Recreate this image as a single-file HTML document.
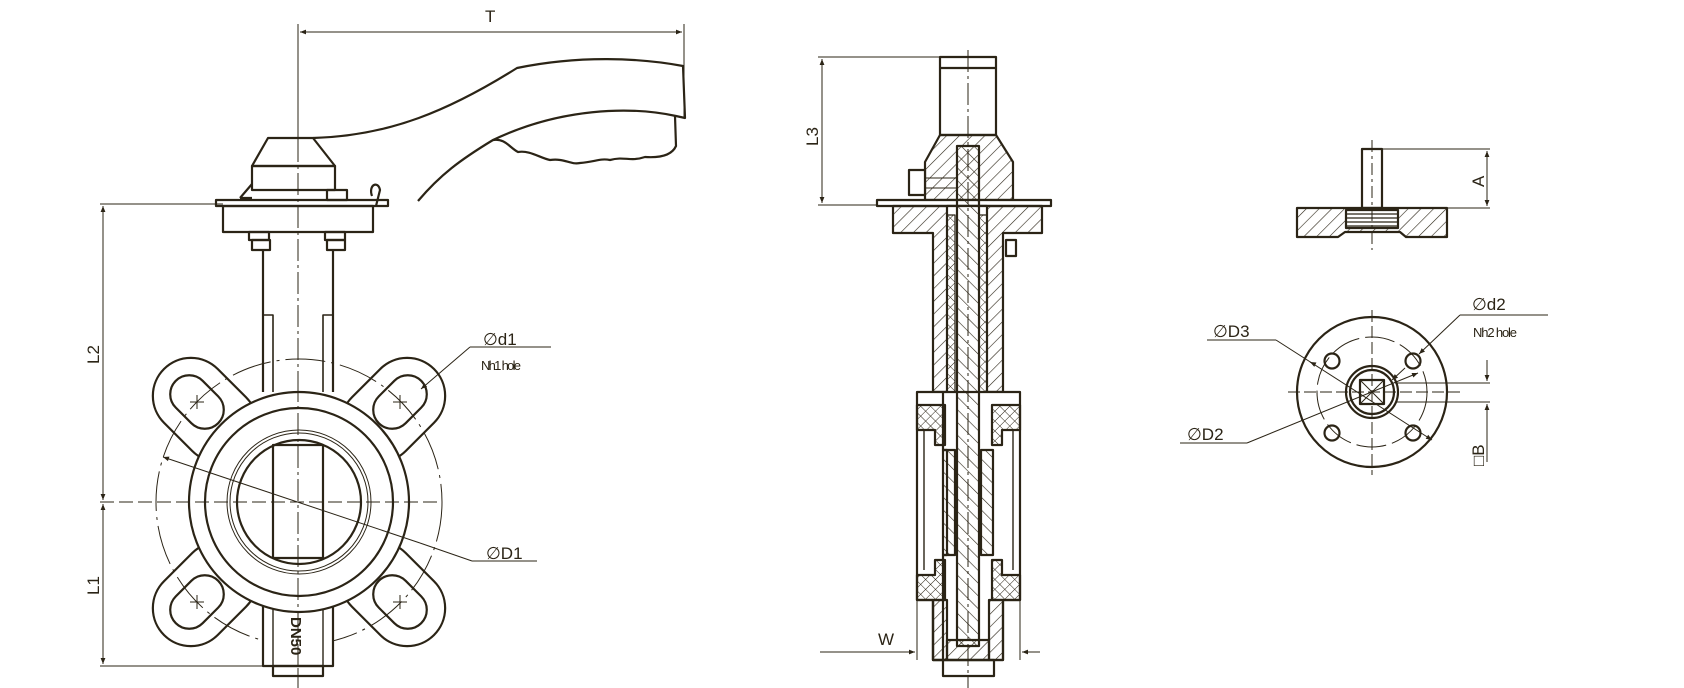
<!DOCTYPE html>
<html><head><meta charset="utf-8"><style>
html,body{margin:0;padding:0;background:#fff;}
svg{display:block;}
text{font-family:"Liberation Sans",sans-serif;fill:#2b2416;}
</style></head><body>
<svg width="1684" height="688" viewBox="0 0 1684 688" xmlns="http://www.w3.org/2000/svg">
<defs>
<pattern id="h1" width="9" height="9" patternUnits="userSpaceOnUse" patternTransform="rotate(45)"><line x1="0" y1="0" x2="0" y2="9" stroke="#2b2416" stroke-width="1.2"/></pattern>
<pattern id="h2" width="9" height="9" patternUnits="userSpaceOnUse" patternTransform="rotate(-45)"><line x1="0" y1="0" x2="0" y2="9" stroke="#2b2416" stroke-width="1.2"/></pattern>
<pattern id="hx" width="7" height="7" patternUnits="userSpaceOnUse" patternTransform="rotate(45)"><line x1="0" y1="0" x2="0" y2="7" stroke="#2b2416" stroke-width="1"/><line x1="0" y1="0" x2="7" y2="0" stroke="#2b2416" stroke-width="1"/></pattern>
<marker id="ar" viewBox="0 0 10 10" refX="10" refY="5" markerWidth="10" markerHeight="6" orient="auto-start-reverse" markerUnits="userSpaceOnUse"><path d="M0,1 L10,5 L0,9 z" fill="#2b2416"/></marker>
</defs>
<g fill="none" stroke="#2b2416" stroke-width="2.2" stroke-linejoin="round">

<!-- ============ LEFT VIEW ============ -->
<!-- T dimension -->
<g stroke-width="1">
<line x1="298" y1="24" x2="298" y2="140"/>
<line x1="684" y1="24" x2="684" y2="118"/>
<line x1="300" y1="32" x2="682" y2="32" marker-start="url(#ar)" marker-end="url(#ar)"/>
<line x1="298" y1="140" x2="298" y2="690" stroke-dasharray="22,4,3,4"/>
</g>
<!-- handle -->
<path d="M313,138 C390,136 450,110 517,68 C580,55 640,58 683,66 L685,118 L676,116 C630,106 560,108 493,140 C460,160 440,175 418,201"/>
<path d="M493,140 C505,138 510,148 518,152 C530,150 540,158 550,160 C565,158 570,165 580,163 C595,162 600,158 610,160 C625,156 630,162 645,157 C660,158 672,155 676,146 L675,116"/>
<!-- head -->
<path d="M268,138 L313,138 L335,166 L252,166 Z"/>
<rect x="252" y="166" width="83" height="24"/>
<path d="M252,184 L240,198 M240,198 L252,198"/>
<rect x="327" y="190" width="20" height="10"/>
<path d="M372,196 C368,185 378,180 380,190 L376,206"/>
<rect x="216" y="200" width="172" height="6"/>
<rect x="223" y="206" width="150" height="26"/>
<!-- nuts -->
<rect x="249" y="232" width="20" height="8"/><rect x="252" y="240" width="18" height="10"/>
<rect x="325" y="232" width="20" height="8"/><rect x="327" y="240" width="18" height="10"/>
<!-- neck -->
<path d="M263,250 L263,392 M333,250 L333,392"/>
<path d="M263,315 L273,315 L273,392 M333,315 L323,315 L323,392" stroke-width="1.6"/>
<!-- lugs outer -->
<g fill="#fff">
<rect x="-58" y="-38" width="116" height="76" rx="38" transform="translate(205,410) rotate(45)"/>
<rect x="-58" y="-38" width="116" height="76" rx="38" transform="translate(393,410) rotate(-45)"/>
<rect x="-58" y="-38" width="116" height="76" rx="38" transform="translate(205,594) rotate(-45)"/>
<rect x="-58" y="-38" width="116" height="76" rx="38" transform="translate(393,594) rotate(45)"/>
</g>
<rect x="-30" y="-19" width="60" height="38" rx="19" transform="translate(197,402) rotate(45)"/>
<rect x="-30" y="-19" width="60" height="38" rx="19" transform="translate(400,402) rotate(-45)"/>
<rect x="-30" y="-19" width="60" height="38" rx="19" transform="translate(197,602) rotate(-45)"/>
<rect x="-30" y="-19" width="60" height="38" rx="19" transform="translate(400,602) rotate(45)"/>
<g stroke-width="1">
<path d="M190,402 h14 M197,395 v14 M393,402 h14 M400,395 v14 M190,602 h14 M197,595 v14 M393,602 h14 M400,595 v14"/>
<circle cx="299" cy="502" r="143" stroke-dasharray="40,6,3,6"/>
</g>
<!-- bottom neck -->
<rect x="263" y="600" width="70" height="66" fill="#fff"/>
<rect x="273" y="666" width="50" height="10"/>
<line x1="273" y1="600" x2="273" y2="666" stroke-width="1.4"/><line x1="323" y1="600" x2="323" y2="666" stroke-width="1.4"/>
<text x="0" y="0" transform="translate(291,617) rotate(90)" font-size="15" font-weight="bold" stroke="none">DN50</text>
<!-- body -->
<circle cx="299" cy="502" r="110" fill="#fff"/>
<circle cx="299" cy="502" r="94"/>
<circle cx="299" cy="502" r="72" stroke-width="1"/>
<circle cx="299" cy="502" r="69" stroke-width="1"/>
<circle cx="299" cy="502" r="62"/>
<rect x="273" y="445" width="50" height="113"/>
<!-- centerlines/dims -->
<g stroke-width="1">
<line x1="298" y1="380" x2="298" y2="690" stroke-dasharray="22,4,3,4"/>
<line x1="100" y1="502" x2="440" y2="502" stroke-dasharray="14,5"/>
<line x1="100" y1="204" x2="223" y2="204"/>
<line x1="100" y1="666" x2="273" y2="666"/>
<line x1="103" y1="206" x2="103" y2="500" marker-start="url(#ar)" marker-end="url(#ar)"/>
<line x1="103" y1="504" x2="103" y2="664" marker-start="url(#ar)" marker-end="url(#ar)"/>
<line x1="163" y1="457" x2="420" y2="543" marker-start="url(#ar)"/>
<line x1="420" y1="543" x2="472" y2="561"/>
<line x1="472" y1="561" x2="537" y2="561"/>
<line x1="470" y1="347" x2="551" y2="347"/>
<line x1="470" y1="347" x2="421" y2="389" marker-end="url(#ar)"/>
</g>
<text x="0" y="0" transform="translate(99,364) rotate(-90)" font-size="17" stroke="none">L2</text>
<text x="0" y="0" transform="translate(99,595) rotate(-90)" font-size="17" stroke="none">L1</text>
<text x="485" y="22" font-size="17" stroke="none">T</text>
<text x="483" y="345" font-size="17" stroke="none">∅d1</text>
<text x="481" y="370" font-size="13" stroke="none" textLength="40">Nh1 hole</text>
<text x="486" y="559" font-size="17" stroke="none">∅D1</text>

<!-- ============ MIDDLE VIEW ============ -->
<g stroke-width="1">
<line x1="818" y1="57" x2="940" y2="57"/>
<line x1="818" y1="205" x2="877" y2="205"/>
<line x1="822" y1="59" x2="822" y2="203" marker-start="url(#ar)" marker-end="url(#ar)"/>
</g>
<text x="0" y="0" transform="translate(818,146) rotate(-90)" font-size="17" stroke="none">L3</text>
<rect x="940" y="57" width="56" height="78"/>
<line x1="940" y1="68" x2="996" y2="68"/>
<path d="M940,135 L996,135 L1013,162 L1013,200 L925,200 L925,162 Z" fill="url(#h1)"/>
<rect x="909" y="170" width="16" height="25" fill="#fff"/>
<line x1="925" y1="178" x2="957" y2="178" stroke-width="1"/><line x1="925" y1="188" x2="957" y2="188" stroke-width="1"/>
<rect x="877" y="200" width="174" height="6" fill="#fff"/>
<path d="M893,206 L1042,206 L1042,233 L1003,233 L1003,392 L933,392 L933,233 L893,233 Z" fill="url(#h1)"/>
<rect x="947" y="206" width="40" height="400" fill="#fff"/>
<rect x="947" y="215" width="8" height="380" fill="url(#hx)" stroke-width="1.2"/>
<rect x="979" y="215" width="8" height="380" fill="url(#hx)" stroke-width="1.2"/>
<rect x="1006" y="240" width="10" height="16"/>
<!-- lower body -->
<path d="M917,392 L1020,392 L1020,600 L1003,600 L1003,660 L933,660 L933,600 L917,600 Z" fill="#fff"/>
<line x1="924" y1="430" x2="924" y2="570" stroke-width="1.4"/><line x1="1013" y1="430" x2="1013" y2="570" stroke-width="1.4"/>
<path d="M917,405 L945,405 L945,445 L935,445 L935,430 L917,430 Z" fill="url(#hx)"/>
<path d="M1020,405 L992,405 L992,445 L1002,445 L1002,430 L1020,430 Z" fill="url(#hx)"/>
<path d="M917,600 L945,600 L945,560 L935,560 L935,575 L917,575 Z" fill="url(#hx)"/>
<path d="M1020,600 L992,600 L992,560 L1002,560 L1002,575 L1020,575 Z" fill="url(#hx)"/>
<path d="M943,392 L943,450 L947,450 L947,555 L943,555 L943,660 L933,660 L933,600" />
<rect x="943" y="450" width="12" height="105" fill="url(#h2)"/>
<rect x="981" y="450" width="12" height="105" fill="url(#h2)"/>
<rect x="933" y="600" width="14" height="60" fill="url(#h1)"/>
<rect x="989" y="600" width="14" height="60" fill="url(#h1)"/>
<rect x="957" y="146" width="22" height="500" fill="url(#h2)"/>
<rect x="947" y="640" width="42" height="20" fill="url(#h1)"/>
<rect x="943" y="660" width="51" height="16"/>
<line x1="968" y1="50" x2="968" y2="688" stroke-width="1" stroke-dasharray="22,4,3,4"/>
<g stroke-width="1">
<line x1="820" y1="652" x2="915" y2="652" marker-end="url(#ar)"/>
<line x1="917" y1="600" x2="917" y2="660"/>
<line x1="1020" y1="600" x2="1020" y2="660"/>
<line x1="1040" y1="652" x2="1022" y2="652" marker-end="url(#ar)"/>
</g>
<text x="878" y="645" font-size="17" stroke="none">W</text>

<!-- ============ RIGHT TOP ============ -->
<rect x="1362" y="149" width="20" height="59"/>
<path d="M1297,208 L1447,208 L1447,237 L1406,237 L1400,232 L1345,232 L1338,237 L1297,237 Z" fill="url(#h1)"/>
<rect x="1346" y="210" width="52" height="18" fill="#fff"/>
<g stroke-width="1.2"><line x1="1346" y1="214" x2="1398" y2="214"/><line x1="1346" y1="218" x2="1398" y2="218"/><line x1="1346" y1="222" x2="1398" y2="222"/><line x1="1346" y1="226" x2="1398" y2="226"/></g>
<line x1="1372" y1="140" x2="1372" y2="250" stroke-width="1" stroke-dasharray="12,4,3,4"/>
<g stroke-width="1">
<line x1="1382" y1="149" x2="1490" y2="149"/>
<line x1="1447" y1="208" x2="1490" y2="208"/>
<line x1="1487" y1="151" x2="1487" y2="206" marker-start="url(#ar)" marker-end="url(#ar)"/>
</g>
<text x="0" y="0" transform="translate(1484,187) rotate(-90)" font-size="17" stroke="none">A</text>

<!-- ============ RIGHT CIRCLE ============ -->
<circle cx="1372" cy="392" r="75"/>
<circle cx="1372" cy="392" r="55" stroke-width="1" stroke-dasharray="30,6"/>
<circle cx="1332" cy="361" r="7.5"/><circle cx="1413" cy="361" r="7.5"/>
<circle cx="1332" cy="433" r="7.5"/><circle cx="1413" cy="433" r="7.5"/>
<circle cx="1372" cy="392" r="26"/>
<circle cx="1372" cy="392" r="22"/>
<rect x="1360" y="380" width="24" height="24"/>
<path d="M1360,380 L1384,404 M1384,380 L1360,404" stroke-width="1"/>
<g stroke-width="1">
<line x1="1372" y1="310" x2="1372" y2="475" stroke-dasharray="12,4"/>
<line x1="1288" y1="392" x2="1460" y2="392" stroke-dasharray="12,4"/>
<line x1="1395" y1="383" x2="1490" y2="383"/>
<line x1="1395" y1="402" x2="1490" y2="402"/>
<line x1="1487" y1="360" x2="1487" y2="381" marker-end="url(#ar)"/>
<line x1="1487" y1="425" x2="1487" y2="404" marker-end="url(#ar)"/>
<line x1="1487" y1="425" x2="1487" y2="462"/>
<line x1="1207" y1="340" x2="1276" y2="340"/>
<line x1="1276" y1="340" x2="1432" y2="440" marker-end="url(#ar)"/>
<line x1="1312" y1="363" x2="1310" y2="362" marker-end="url(#ar)"/>
<line x1="1180" y1="443" x2="1247" y2="443"/>
<line x1="1247" y1="443" x2="1418" y2="373" marker-end="url(#ar)"/>
<line x1="1460" y1="315" x2="1548" y2="315"/>
<line x1="1460" y1="315" x2="1419" y2="354" marker-end="url(#ar)"/>
<line x1="1405" y1="368" x2="1392" y2="380" marker-end="url(#ar)"/>
</g>
<text x="1213" y="337" font-size="17" stroke="none">∅D3</text>
<text x="1187" y="440" font-size="17" stroke="none">∅D2</text>
<text x="1472" y="310" font-size="17" stroke="none">∅d2</text>
<text x="1473" y="337" font-size="13" stroke="none" textLength="44">Nh2 hole</text>
<text x="0" y="0" transform="translate(1484,466) rotate(-90)" font-size="17" stroke="none">□B</text>
</g>
</svg>
</body></html>
